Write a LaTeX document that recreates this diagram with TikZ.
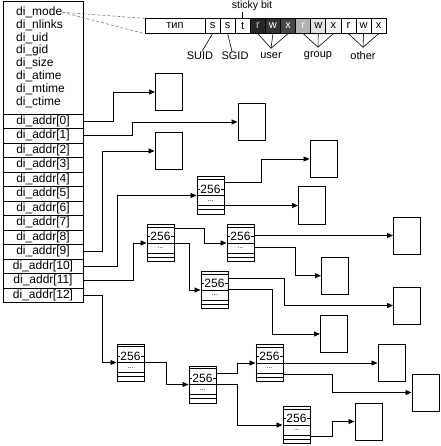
\documentclass[tikz,border=0pt]{standalone}
\usepackage{fontspec}
\setmainfont{Liberation Sans}
\usetikzlibrary{arrows.meta,calc}
\newcommand\tblfont{\fontsize{12pt}{14pt}\selectfont}
\newcommand\lblfont{\fontsize{11pt}{13pt}\selectfont}
\newcommand\mkblk[2]{%
  \node[blkbox] (#1) at (#2) {};
  \foreach \d in {3,12.5,19,29,33}{\draw[line width=0.4pt] ([yshift=-\d pt]#1.north west) -- ([yshift=-\d pt]#1.north east);}
  \node[fill=white,inner sep=0.4pt,font=\tblfont] at ([yshift=-12.5pt]#1.north) {256};
  \node[fill=white,inner sep=0.3pt,font=\fontsize{7pt}{7pt}\selectfont] at ([yshift=-24.5pt]#1.north) {...};
}
\begin{document}
\begin{tikzpicture}[x=1pt,y=-1pt,
  arr/.style={line width=0.95pt,-{Triangle[length=6pt,width=5pt]}},
  dbox/.style={draw,line width=1pt,minimum width=27pt,minimum height=37pt,inner sep=0pt},
  blkbox/.style={draw,line width=1pt,minimum width=27pt,minimum height=37pt,inner sep=0pt},
  row/.style={draw,line width=0.9pt,minimum width=80pt,minimum height=14.5pt,inner sep=0pt,font=\tblfont},
  fld/.style={anchor=west,inner sep=0pt,font=\tblfont},
  cell/.style={draw,line width=0.8pt,minimum width=15.1pt,minimum height=14.5pt,inner sep=0pt,font=\lblfont},
  lbl/.style={inner sep=0.5pt,font=\lblfont},
  pale/.style={gray,line width=0.6pt,dash pattern=on 3pt off 2pt},
  thinl/.style={line width=0.6pt}
]
\useasboundingbox (0,0) rectangle (440,446);

% ---- inode table ----
\draw[line width=0.9pt] (3,1) rectangle (83,114);
\node[fld] (mode)   at (16,12.3) {di\_mode};
\node[fld] (nlinks) at (16,25.1) {di\_nlinks};
\node[fld] (uid)    at (16,37.9) {di\_uid};
\node[fld] (gid)    at (16,50.7) {di\_gid};
\node[fld] (size)   at (16,63.5) {di\_size};
\node[fld] (atime)  at (16,76.3) {di\_atime};
\node[fld] (mtime)  at (16,89.1) {di\_mtime};
\node[fld] (ctime)  at (16,101.9) {di\_ctime};
\foreach \i in {0,...,12}{
  \node[row] (a\i) at (43,{114+14.5*(\i+0.5)}) {di\_addr[\i]};
}

% ---- mode word ----
\node[cell,minimum width=60pt] (typ) at (175,26) {тип};
\node[cell] (c1)  at (212.55,26) {s};
\node[cell] (c2)  at (227.65,26) {s};
\node[cell] (c3)  at (242.75,26) {t};
\node[cell,fill=black!85,text=gray!45] (c4)  at (257.85,26) {r};
\node[cell,fill=black!80,text=white] (c5)  at (272.95,26) {w};
\node[cell,fill=black!72,text=white] (c6)  at (288.05,26) {x};
\node[cell,fill=gray!60,text=gray!15] (c7)  at (303.15,26) {r};
\node[cell,fill=gray!22] (c8)  at (318.25,26) {w};
\node[cell,fill=gray!10] (c9)  at (333.35,26) {x};
\node[cell] (c10) at (348.45,26) {r};
\node[cell] (c11) at (363.55,26) {w};
\node[cell] (c12) at (378.65,26) {x};

\draw[pale] (mode.east) -- (typ.north west);
\draw[pale] (mode.east) -- (typ.south west);

\node[lbl,font=\fontsize{10.5pt}{11pt}\selectfont] (sticky) at (252,6) {sticky bit};
\draw[thinl] (c3.north) -- (c3.north |- sticky.south);

\node[lbl] (suid)  at (200,56) {SUID};
\node[lbl] (sgid)  at (235,56) {SGID};
\node[lbl] (user)  at (271,56) {user};
\node[lbl] (group) at (318,56) {group};
\node[lbl] (other) at (363,56) {other};
\draw[thinl] (c1.south) -- ([xshift=2pt]suid.north);
\draw[thinl] (c2.south) -- ([xshift=-3pt]sgid.north);
\draw[thinl] (c4.south) -- ([yshift=4pt]user.north) -- (c6.south);
\draw[thinl] (c5.south) -- ([yshift=4pt]user.north);
\draw[thinl] (c7.south) -- ([yshift=4pt]group.north) -- (c9.south);
\draw[thinl] (c8.south) -- ([yshift=4pt]group.north);
\draw[thinl] (c10.south) -- ([yshift=4pt]other.north) -- (c12.south);
\draw[thinl] (c11.south) -- ([yshift=4pt]other.north);

% ---- data blocks ----
\node[dbox] (A) at (169,92) {};
\node[dbox] (B) at (251.5,122) {};
\node[dbox] (C) at (168.5,151) {};
\node[dbox] (E) at (323.5,159) {};
\node[dbox] (F) at (312,205.5) {};
\node[dbox] (J) at (407,235.5) {};
\node[dbox] (K) at (335,275.7) {};
\node[dbox] (L) at (407,305.5) {};
\node[dbox] (M) at (334,334) {};
\node[dbox] (R) at (391.5,363) {};
\node[dbox] (S) at (425.5,392.5) {};
\node[dbox] (T) at (368.5,421.5) {};

% ---- indirect blocks ----
\mkblk{D}{210.5,195.5}
\mkblk{G}{160.5,243}
\mkblk{H}{240.5,243}
\mkblk{I}{214.5,290}
\mkblk{N}{130.5,362.5}
\mkblk{O}{202.5,384.5}
\mkblk{P}{269.5,363}
\mkblk{Q}{296.5,425}

% ---- connectors ----
\draw[arr] (a0.east) -- ++(30,0) |- (A.west);
\draw[arr] (a1.east) -- ++(49,0) |- (B.west);
\draw[arr] (a9.east) -- ++(18.7,0) |- (C.west);
\draw[arr] (a10.east) -- ++(34.3,0) |- (D.west);
\draw[arr] (a11.east) -- ++(50,0) |- (G.west);
\draw[arr] (a12.east) -- ++(18.7,0) |- (N.west);

\draw[arr] ([yshift=-6pt]D.north east) -- ++(36.7,0) |- (E.west);
\draw[arr] (D.east |- F.west) -- (F.west);
\draw[arr] ([yshift=-4pt]G.north east) -- ++(30,0) |- (H.west);
\draw[arr] (G.east) -- ++(15,0) |- (I.west);
\draw[arr] (H.east |- J.west) -- (J.west);
\draw[arr] ([yshift=-23pt]H.north east) -- ++(41,0) |- (K.west);
\draw[arr] ([yshift=-7pt]I.north east) -- ++(56,0) |- (L.west);
\draw[arr] ([yshift=-18pt]I.north east) -- ++(44,0) |- (M.west);
\draw[arr] (N.east) -- ++(22,0) |- (O.west);
\draw[arr] ([yshift=-8pt]O.north east) -- ++(21.3,0) |- (P.west);
\draw[arr] ([yshift=-19pt]O.north east) -- ++(21.3,0) |- (Q.west);
\draw[arr] (P.east |- R.west) -- (R.west);
\draw[arr] ([yshift=-30pt]P.north east) -- ++(49.3,0) |- (S.west);
\draw[arr] ([yshift=-30pt]Q.north east) -- ++(21.7,0) |- (T.west);
\end{tikzpicture}
\end{document}
